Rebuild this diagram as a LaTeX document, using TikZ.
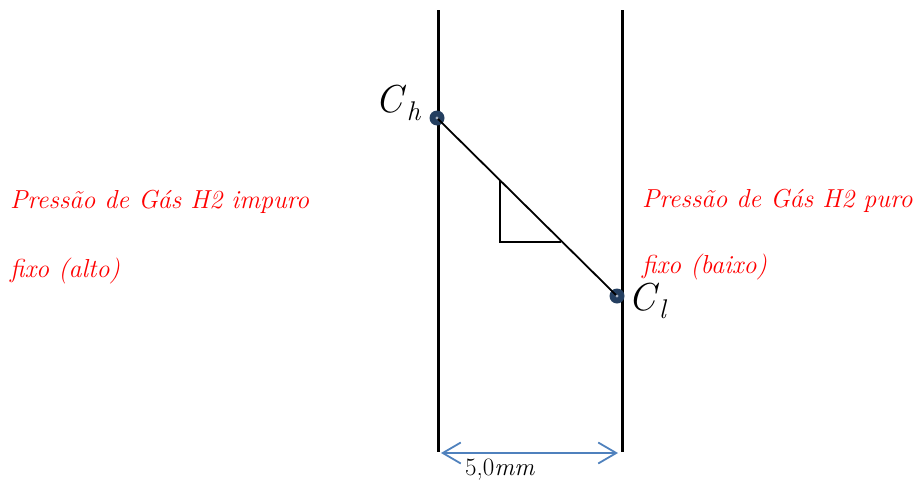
\documentclass[tikz,border=0pt]{standalone}
\usepackage{fontspec}
\usetikzlibrary{arrows.meta}
\definecolor{dotblue}{HTML}{243F60}
\definecolor{arrblue}{HTML}{4F81BD}
\newcommand{\mysub}[2]{\textit{#1}\kern0pt\raisebox{-8pt}{\fontsize{27}{29}\selectfont\itshape #2}}
\begin{document}
\begin{tikzpicture}[x=1pt,y=-1pt,
  wall/.style={line width=3pt},
  dotmark/.style={circle,fill=dotblue,inner sep=0pt,minimum size=15pt},
  redtxt/.style={text=red,font=\fontsize{26}{28}\selectfont\itshape,anchor=base west,inner sep=0pt},
  clabel/.style={font=\fontsize{39}{42}\selectfont,inner sep=0pt},
  dimarrow/.style={arrblue,line width=1.8pt,{Straight Barb[length=18pt,width=21pt]}-{Straight Barb[length=18pt,width=21pt]}}]
\useasboundingbox (0,0) rectangle (919,485);
\coordinate (lt) at (438,10);
\coordinate (lb) at (438,452);
\coordinate (rt) at (622,10);
\coordinate (rb) at (622,452);
\draw[wall] (lt) -- (lb);
\draw[wall] (rt) -- (rb);
\node[dotmark] (ch) at (437,118) {};
\node[dotmark] (cl) at (617,296) {};
\draw[line width=1.8pt] (ch.center) -- (cl.center);
\fill[white!60!dotblue] (ch.center) circle (1.6pt);
\fill[white!60!dotblue] (cl.center) circle (1.6pt);
\coordinate (ta) at (500,181);
\coordinate (tb) at (500,242);
\coordinate (tc) at (561,242);
\draw[line width=1.2pt] (ta) -- (tb) -- (tc);
\node[clabel] (chl) at (398,103) {\mysub{C}{h}};
\node[clabel] (cll) at (647,301) {\mysub{C}{l}};
\coordinate (al) at (441,453);
\coordinate (ar) at (618,453);
\draw[dimarrow] (al) -- (ar);
\node[font=\fontsize{25}{27}\selectfont,inner sep=0pt] (mm) at (500,470) {5,0\textit{mm}};
\node[redtxt] (l1) at (10,208) {Pressão de Gás H2 impuro};
\node[redtxt] (l2) at (10,277) {fixo (alto)};
\node[redtxt] (r1) at (642,207) {Pressão de Gás H2 puro};
\node[redtxt] (r2) at (642,273) {fixo (baixo)};
\end{tikzpicture}
\end{document}
